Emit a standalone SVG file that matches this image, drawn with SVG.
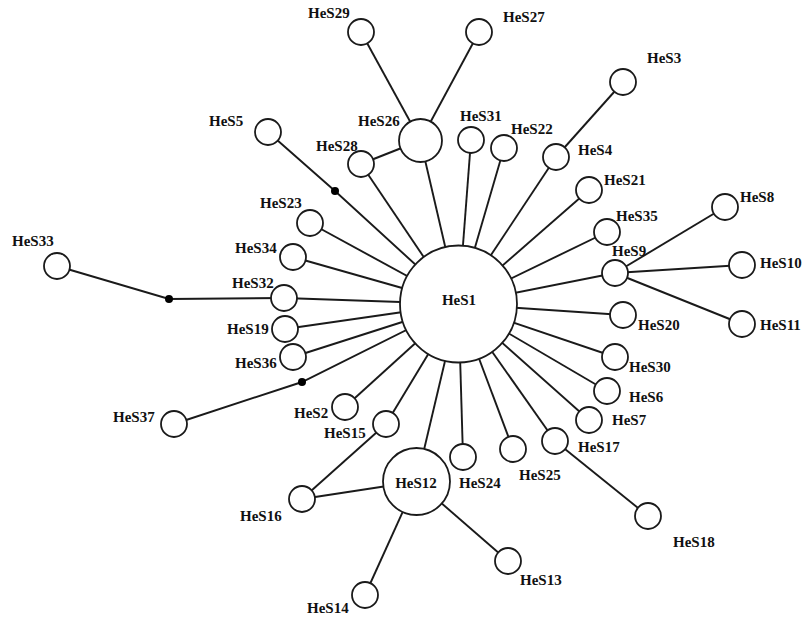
<svg xmlns="http://www.w3.org/2000/svg" width="802" height="618" viewBox="0 0 802 618">
<style>
.e{stroke:#1a1a1a;stroke-width:1.9;fill:none}
.n{fill:#fff;stroke:#1a1a1a;stroke-width:1.8}
.d{fill:#000}
text{font-family:"Liberation Serif","Times New Roman",serif;font-weight:bold;font-size:15px;fill:#111}
</style>
<rect width="802" height="618" fill="#fff"/>
<g id="connectors">
<line class="e" x1="458.5" y1="304" x2="420.5" y2="140.5"/>
<line class="e" x1="450" y1="296" x2="361" y2="164"/>
<line class="e" x1="458.5" y1="304" x2="471" y2="140"/>
<line class="e" x1="458.5" y1="304" x2="504" y2="148"/>
<line class="e" x1="458.5" y1="304" x2="556" y2="157"/>
<line class="e" x1="458.5" y1="304" x2="589" y2="190"/>
<line class="e" x1="458.5" y1="304" x2="607" y2="232"/>
<line class="e" x1="458.5" y1="304" x2="615" y2="273"/>
<line class="e" x1="458.5" y1="304" x2="623" y2="315"/>
<line class="e" x1="458.5" y1="304" x2="615" y2="357"/>
<line class="e" x1="458.5" y1="304" x2="607" y2="391"/>
<line class="e" x1="458.5" y1="304" x2="589" y2="420"/>
<line class="e" x1="458.5" y1="304" x2="555" y2="441"/>
<line class="e" x1="458.5" y1="304" x2="513" y2="449"/>
<line class="e" x1="458.5" y1="304" x2="463" y2="457"/>
<line class="e" x1="458.5" y1="304" x2="416.5" y2="481.5"/>
<line class="e" x1="458.5" y1="304" x2="386" y2="424"/>
<line class="e" x1="458.5" y1="304" x2="345" y2="407"/>
<line class="e" x1="458.5" y1="304" x2="293" y2="357"/>
<line class="e" x1="458.5" y1="304" x2="285" y2="329"/>
<line class="e" x1="458.5" y1="304" x2="284" y2="298"/>
<line class="e" x1="458.5" y1="304" x2="293" y2="257"/>
<line class="e" x1="458.5" y1="304" x2="310" y2="223"/>
<polyline class="e" points="268,132 335,191 458.5,304"/>
<polyline class="e" points="174,424 302,382 458.5,304"/>
<polyline class="e" points="57,266 169,299 284,298"/>
<line class="e" x1="420.5" y1="140.5" x2="361" y2="32"/>
<line class="e" x1="420.5" y1="140.5" x2="479" y2="32"/>
<line class="e" x1="420.5" y1="140.5" x2="361" y2="164"/>
<line class="e" x1="556" y1="157" x2="623" y2="82"/>
<line class="e" x1="615" y1="273" x2="725" y2="207"/>
<line class="e" x1="615" y1="273" x2="742" y2="265"/>
<line class="e" x1="615" y1="273" x2="742" y2="324"/>
<line class="e" x1="555" y1="441" x2="648" y2="516"/>
<line class="e" x1="416.5" y1="481.5" x2="508" y2="561"/>
<line class="e" x1="416.5" y1="481.5" x2="365" y2="595"/>
<line class="e" x1="416.5" y1="481.5" x2="302" y2="499"/>
<line class="e" x1="386" y1="424" x2="302" y2="499"/>
<circle class="d" cx="335" cy="191" r="4"/>
<circle class="d" cx="169" cy="299" r="4"/>
<circle class="d" cx="302" cy="382" r="4"/>
</g>
<g id="HeS1"><circle class="n" cx="458.5" cy="304" r="58.5"/><text x="459" y="305" text-anchor="middle">HeS1</text></g>
<g id="HeS26"><circle class="n" cx="420.5" cy="140.5" r="21.5"/><text x="358" y="126">HeS26</text></g>
<g id="HeS12"><circle class="n" cx="416.5" cy="481.5" r="33.5"/><text x="416" y="488" text-anchor="middle">HeS12</text></g>
<g id="HeS29"><circle class="n" cx="361" cy="32" r="13"/><text x="308" y="18">HeS29</text></g>
<g id="HeS27"><circle class="n" cx="479" cy="32" r="13"/><text x="503" y="22">HeS27</text></g>
<g id="HeS3"><circle class="n" cx="623" cy="82" r="13"/><text x="647" y="63">HeS3</text></g>
<g id="HeS5"><circle class="n" cx="268" cy="132" r="13"/><text x="209" y="126">HeS5</text></g>
<g id="HeS28"><circle class="n" cx="361" cy="164" r="13"/><text x="316" y="151">HeS28</text></g>
<g id="HeS31"><circle class="n" cx="471" cy="140" r="13"/><text x="460" y="121">HeS31</text></g>
<g id="HeS22"><circle class="n" cx="504" cy="148" r="13"/><text x="511" y="134">HeS22</text></g>
<g id="HeS4"><circle class="n" cx="556" cy="157" r="13"/><text x="578" y="155">HeS4</text></g>
<g id="HeS21"><circle class="n" cx="589" cy="190" r="13"/><text x="604" y="185">HeS21</text></g>
<g id="HeS23"><circle class="n" cx="310" cy="223" r="13"/><text x="260" y="208">HeS23</text></g>
<g id="HeS35"><circle class="n" cx="607" cy="232" r="13"/><text x="616" y="221">HeS35</text></g>
<g id="HeS8"><circle class="n" cx="725" cy="207" r="13"/><text x="740" y="202">HeS8</text></g>
<g id="HeS34"><circle class="n" cx="293" cy="257" r="13"/><text x="235" y="253">HeS34</text></g>
<g id="HeS33"><circle class="n" cx="57" cy="266" r="13"/><text x="12" y="246">HeS33</text></g>
<g id="HeS9"><circle class="n" cx="615" cy="273" r="13"/><text x="612" y="256">HeS9</text></g>
<g id="HeS10"><circle class="n" cx="742" cy="265" r="13"/><text x="760" y="268">HeS10</text></g>
<g id="HeS32"><circle class="n" cx="284" cy="298" r="13"/><text x="232" y="288">HeS32</text></g>
<g id="HeS20"><circle class="n" cx="623" cy="315" r="13"/><text x="638" y="330">HeS20</text></g>
<g id="HeS11"><circle class="n" cx="742" cy="324" r="13"/><text x="760" y="330">HeS11</text></g>
<g id="HeS19"><circle class="n" cx="285" cy="329" r="13"/><text x="227" y="334">HeS19</text></g>
<g id="HeS36"><circle class="n" cx="293" cy="357" r="13"/><text x="235" y="368">HeS36</text></g>
<g id="HeS30"><circle class="n" cx="615" cy="357" r="13"/><text x="629" y="372">HeS30</text></g>
<g id="HeS6"><circle class="n" cx="607" cy="391" r="13"/><text x="629" y="402">HeS6</text></g>
<g id="HeS2"><circle class="n" cx="345" cy="407" r="13"/><text x="294" y="418">HeS2</text></g>
<g id="HeS7"><circle class="n" cx="589" cy="420" r="13"/><text x="612" y="425">HeS7</text></g>
<g id="HeS37"><circle class="n" cx="174" cy="424" r="13"/><text x="113" y="422">HeS37</text></g>
<g id="HeS15"><circle class="n" cx="386" cy="424" r="13"/><text x="324" y="438">HeS15</text></g>
<g id="HeS17"><circle class="n" cx="555" cy="441" r="13"/><text x="578" y="452">HeS17</text></g>
<g id="HeS25"><circle class="n" cx="513" cy="449" r="13"/><text x="519" y="480">HeS25</text></g>
<g id="HeS24"><circle class="n" cx="463" cy="457" r="13"/><text x="459" y="488">HeS24</text></g>
<g id="HeS16"><circle class="n" cx="302" cy="499" r="13"/><text x="240" y="521">HeS16</text></g>
<g id="HeS18"><circle class="n" cx="648" cy="516" r="13"/><text x="673" y="547">HeS18</text></g>
<g id="HeS13"><circle class="n" cx="508" cy="561" r="13"/><text x="520" y="585">HeS13</text></g>
<g id="HeS14"><circle class="n" cx="365" cy="595" r="13"/><text x="307" y="613">HeS14</text></g>
</svg>
